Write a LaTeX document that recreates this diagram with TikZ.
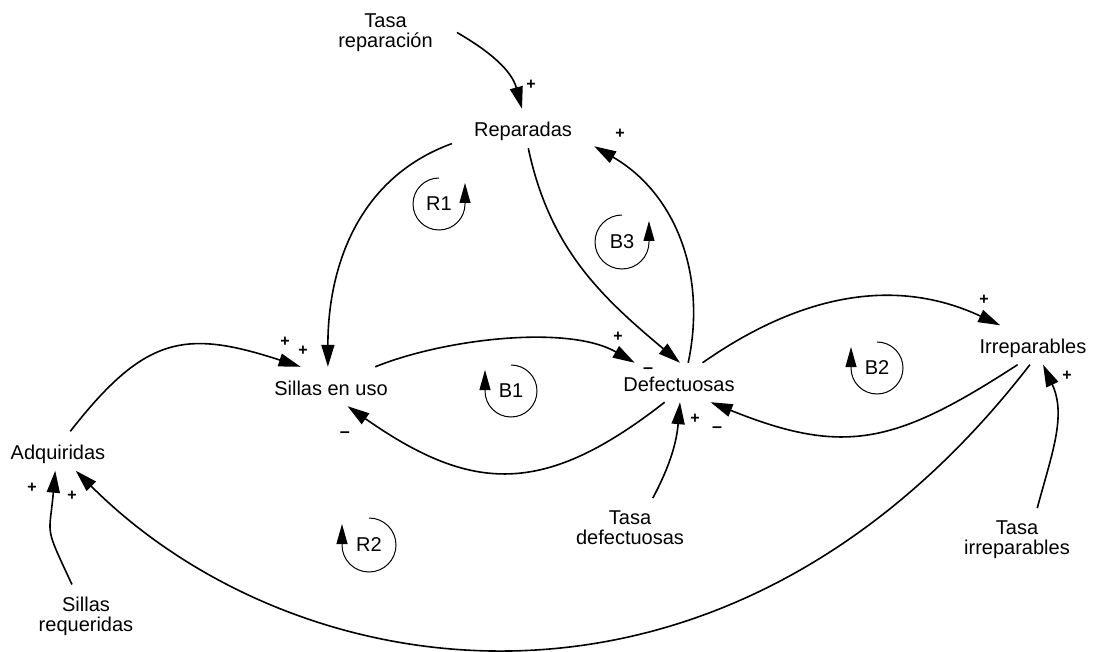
\documentclass[tikz,border=0pt]{standalone}
\usepackage{fontspec}
\setmainfont{Liberation Sans}
\usetikzlibrary{arrows.meta}

\begin{document}
\begin{tikzpicture}[x=1pt,y=1pt,
  var/.style={font=\fontsize{20}{20}\selectfont, text height=19pt, text depth=2pt,
              inner xsep=22pt, inner ysep=9pt},
  aux/.style={font=\fontsize{20}{20}\selectfont, align=center,
              inner xsep=24pt, inner ysep=12pt},
  link/.style={line width=1.6pt, -{Triangle[length=22pt,width=13pt]}},
  sign/.style={font=\fontsize{16}{16}\selectfont\bfseries, inner sep=0pt},
  minus/.style={font=\fontsize{18}{18}\selectfont\bfseries, inner sep=0pt},
  loopid/.style={font=\fontsize{20}{20}\selectfont, inner sep=0pt},
  looparc/.style={line width=1pt, -{Triangle[length=20pt,width=11pt]}}]

\useasboundingbox (0,0) rectangle (1095,-652);

% stocks and flows
\node[var] (rep) at (523,-128.5) {Reparadas};
\node[var] (sil) at (331,-386.5) {Sillas en uso};
\node[var] (def) at (679,-382.5) {Defectuosas};
\node[var] (irr) at (1033,-345) {Irreparables};
\node[var] (adq) at (58,-451) {Adquiridas};

% rate constants
\node[aux] (tr) at (385.5,-32.5) {Tasa\\reparación};
\node[aux] (td) at (630,-527.3) {Tasa\\defectuosas};
\node[aux] (ti) at (1017,-539.3) {Tasa\\irreparables};
\node[aux] (sr) at (86,-616) {Sillas\\requeridas};

% causal links
\draw[link] (tr.east) to[out=-30, in=105] (rep.93);
\draw[link] (rep.192.6) to[out=200, in=90] (sil.99);
\draw[link] (rep.-75.6) to[out=-78, in=140] (def.87);
\draw[link] (def.65.2) to[out=78, in=-30] (rep.-14);
\draw[link] (sil.24.9) to[out=22, in=150, looseness=0.75] (def.156);
\draw[link] (def.234.3) to[out=218, in=-35, looseness=1.23] (sil.-50.6);
\draw[link] (def.40.3) to[out=35, in=155] (irr.149.4);
\draw[link] (irr.232.4) to[out=213, in=-22, looseness=1.2] (def.-32.2);
\draw[link] (irr.261.3) .. controls +(-305.6,-395.8) and +(220.3,-220.3) .. (adq.-48.9);
\draw[link] (adq.58.4) to[out=52, in=162, looseness=1.3] (sil.147.8);
\draw[link] (sr.114) to[out=115, in=-95, looseness=1.5] (adq.262);
\draw[link] (td.52) to[out=62, in=-95] (def.-87);
\draw[link] (ti.57.4) to[out=75, in=-65] (irr.-63);

% link polarities
\node[sign] (s1) at (531,-85) {+};
\node[sign] (s2) at (620,-134) {+};
\node[sign] (s3) at (285,-342) {+};
\node[sign] (s4) at (303,-351) {+};
\node[sign] (s5) at (618,-337) {+};
\node[sign] (s6) at (695,-419) {+};
\node[sign] (s7) at (984,-300) {+};
\node[sign] (s8) at (1067,-376) {+};
\node[sign] (s9) at (32,-488) {+};
\node[sign] (s10) at (72,-496) {+};
\node[minus] (n1) at (648,-371) {–};
\node[minus] (n2) at (717,-430) {–};
\node[minus] (n3) at (345,-435) {–};

% loop identifiers
\node[loopid] (r1) at (439,-204) {R1};
\draw[looparc] ([shift={(90:26pt)}]r1.center) arc[start angle=90, end angle=360, radius=26pt] -- ++(0,21);
\node[loopid] (b3) at (622,-242) {B3};
\draw[looparc] ([shift={(90:27pt)}]b3.center) arc[start angle=90, end angle=360, radius=27pt] -- ++(0,21);
\node[loopid] (b1) at (511,-391) {B1};
\draw[looparc] ([shift={(90:26pt)}]b1.center) arc[start angle=90, end angle=-180, radius=26pt] -- ++(0,21);
\node[loopid] (b2) at (877,-368) {B2};
\draw[looparc] ([shift={(90:26pt)}]b2.center) arc[start angle=90, end angle=-180, radius=26pt] -- ++(0,21);
\node[loopid] (r2) at (369,-545) {R2};
\draw[looparc] ([shift={(90:27pt)}]r2.center) arc[start angle=90, end angle=-180, radius=27pt] -- ++(0,21);

\end{tikzpicture}
\end{document}
